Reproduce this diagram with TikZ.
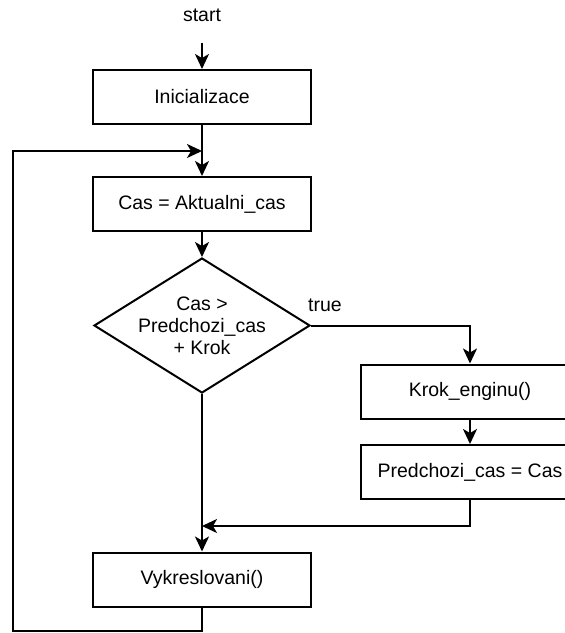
\documentclass[tikz,border=0pt]{standalone}
\usepackage{fontspec}
\setmainfont{Liberation Sans}
\usetikzlibrary{shapes.geometric,arrows.meta}
\begin{document}
\begin{tikzpicture}[x=1pt,y=-1pt,
  every node/.style={font=\fontsize{19.5}{22}\selectfont},
  proc/.style={draw, line width=2pt, minimum width=218pt, minimum height=54pt, inner sep=0pt, fill=white},
  dec/.style={draw, line width=2pt, shape=diamond, minimum width=216pt, minimum height=135pt, inner sep=0pt},
  conn/.style={line width=2pt},
  arr/.style={conn, -{Stealth[length=15pt,width=14pt,inset=4pt]}}]
\useasboundingbox (0,0) rectangle (565,633);
\clip (0,0) rectangle (565,633);
\node (start) at (202,15) {start};
\coordinate (s0) at (202,43);
\node[proc] (init) at (202,97) {Inicializace};
\node[proc] (cas) at (202,204) {Cas = Aktualni\_cas};
\node[dec] (dec) at (202,325.5) {};
\node[align=center] (dectext) at (dec) {Cas >\\Predchozi\_cas\\+ Krok};
\node[proc] (krok) at (470,391.5) {Krok\_enginu()};
\node[proc] (pred) at (470,472) {Predchozi\_cas = Cas};
\node[proc] (vyk) at (202,579.5) {Vykreslovani()};
\node (true) at (325,305) {true};
\coordinate (lb) at (13,631);
\coordinate (lt) at (13,151);
\coordinate (merge) at (202,526);
\draw[arr] (s0) -- (init.north);
\draw[arr] (init.south) -- (cas.north);
\draw[arr] (cas.south) -- (dec.north);
\draw[arr] (dec.east) -| (krok.north);
\draw[arr] (krok.south) -- (pred.north);
\draw[arr] (pred.south) |- (merge);
\draw[arr] (dec.south) -- (vyk.north);
\draw[arr] (vyk.south) |- (lb) -- (lt) -- (init.south |- lt);
\end{tikzpicture}
\end{document}
